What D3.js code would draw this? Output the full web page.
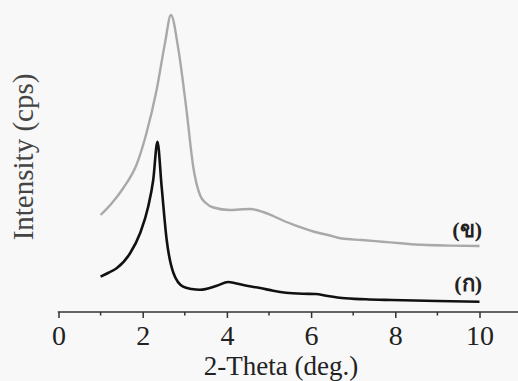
<!DOCTYPE html>
<html>
<head>
<meta charset="utf-8">
<script src="https://cdn.jsdelivr.net/npm/d3@7"></script>
<style>
  body { margin: 0; background: #f8f8f8; }
  svg { display: block; }
</style>
</head>
<body>
<svg id="chart" width="518" height="381"></svg>
<script>
// 2-theta (deg.) positions and intensities
const thetaB = [1.0, 1.25, 1.54, 1.86, 2.09, 2.33, 2.53, 2.67, 2.85, 3.04, 3.2, 3.36, 3.5, 3.68, 4.07, 4.3, 4.55, 4.86, 5.1, 5.33, 5.7, 6.05, 6.4, 6.73, 7.2, 7.69, 8.2, 8.64, 9.3, 10.0];
const sampleB = [970, 1080, 1240, 1480, 1790, 2220, 2690, 2970, 2620, 2020, 1453, 1170, 1090, 1045, 1020, 1025, 1030, 1000, 960, 915, 855, 805, 770, 735, 720, 703, 685, 672, 664, 660];

const thetaA = [1.0, 1.2, 1.38, 1.7, 1.94, 2.13, 2.25, 2.35, 2.45, 2.57, 2.73, 2.96, 3.16, 3.36, 3.76, 4.03, 4.2, 4.47, 4.79, 5.1, 5.4, 5.8, 6.1, 6.4, 6.73, 7.3, 7.92, 9.0, 10.0];
const sampleA = [353, 395, 437, 587, 790, 1053, 1320, 1703, 1253, 720, 390, 253, 230, 222, 262, 300, 288, 262, 240, 212, 192, 182, 180, 160, 140, 127, 120, 110, 103];

const xTicks = [0, 2, 4, 6, 8, 10];
const xMinor = [1, 3, 5, 7, 9];
const labelA = "(ก)";
const labelB = "(ข)";

const svg = d3.select("#chart");
const serif = "'Liberation Serif', 'Times New Roman', serif";

const x = d3.scaleLinear().domain([0, 11]).range([58.5, 521.6]);
const y = d3.scaleLinear().domain([0, 3000]).range([312, 12]);

const line = d3.line()
  .x((d) => x(d[0]))
  .y((d) => y(d[1]))
  .curve(d3.curveMonotoneX);

svg.append("path")
  .datum(d3.zip(thetaB, sampleB))
  .attr("fill", "none")
  .attr("stroke", "#a9a9a9")
  .attr("stroke-width", 2.4)
  .attr("d", line);

svg.append("path")
  .datum(d3.zip(thetaA, sampleA))
  .attr("fill", "none")
  .attr("stroke", "#111")
  .attr("stroke-width", 2.6)
  .attr("d", line);

// x axis
const axis = svg.append("g").attr("transform", `translate(0,${y(0)})`);
axis.call(d3.axisBottom(x).tickValues(xTicks).tickSize(6).tickPadding(7).tickFormat(d3.format("d")))
  .call((g) => g.select(".domain").attr("d", `M${x(0)},0.5V0H${x(11)}`));
axis.selectAll(".minor")
  .data(xMinor)
  .join("line")
  .attr("class", "minor")
  .attr("x1", (d) => x(d)).attr("x2", (d) => x(d))
  .attr("y1", 0).attr("y2", 3.5);
axis.selectAll("path, line").attr("stroke", "#333").attr("stroke-width", 1.5);
axis.selectAll("text")
  .attr("font-family", serif)
  .attr("font-size", 28)
  .attr("fill", "#222");

svg.append("text")
  .attr("x", 281)
  .attr("y", 375)
  .attr("text-anchor", "middle")
  .attr("font-family", serif)
  .attr("font-size", 27)
  .attr("fill", "#222")
  .text("2-Theta (deg.)");

svg.append("text")
  .attr("transform", "translate(33,157) rotate(-90)")
  .attr("text-anchor", "middle")
  .attr("font-family", serif)
  .attr("font-size", 29)
  .attr("fill", "#444")
  .text("Intensity (cps)");

// sample labels
svg.append("text")
  .attr("x", 482).attr("y", y(sampleB[sampleB.length - 1]) - 9)
  .attr("text-anchor", "end")
  .attr("font-family", serif)
  .attr("font-weight", "bold")
  .attr("font-size", 22)
  .attr("fill", "#222")
  .text(labelB);

svg.append("text")
  .attr("x", 482).attr("y", y(sampleA[sampleA.length - 1]) - 11)
  .attr("text-anchor", "end")
  .attr("font-family", serif)
  .attr("font-weight", "bold")
  .attr("font-size", 22)
  .attr("fill", "#222")
  .text(labelA);
</script>
</body>
</html>
